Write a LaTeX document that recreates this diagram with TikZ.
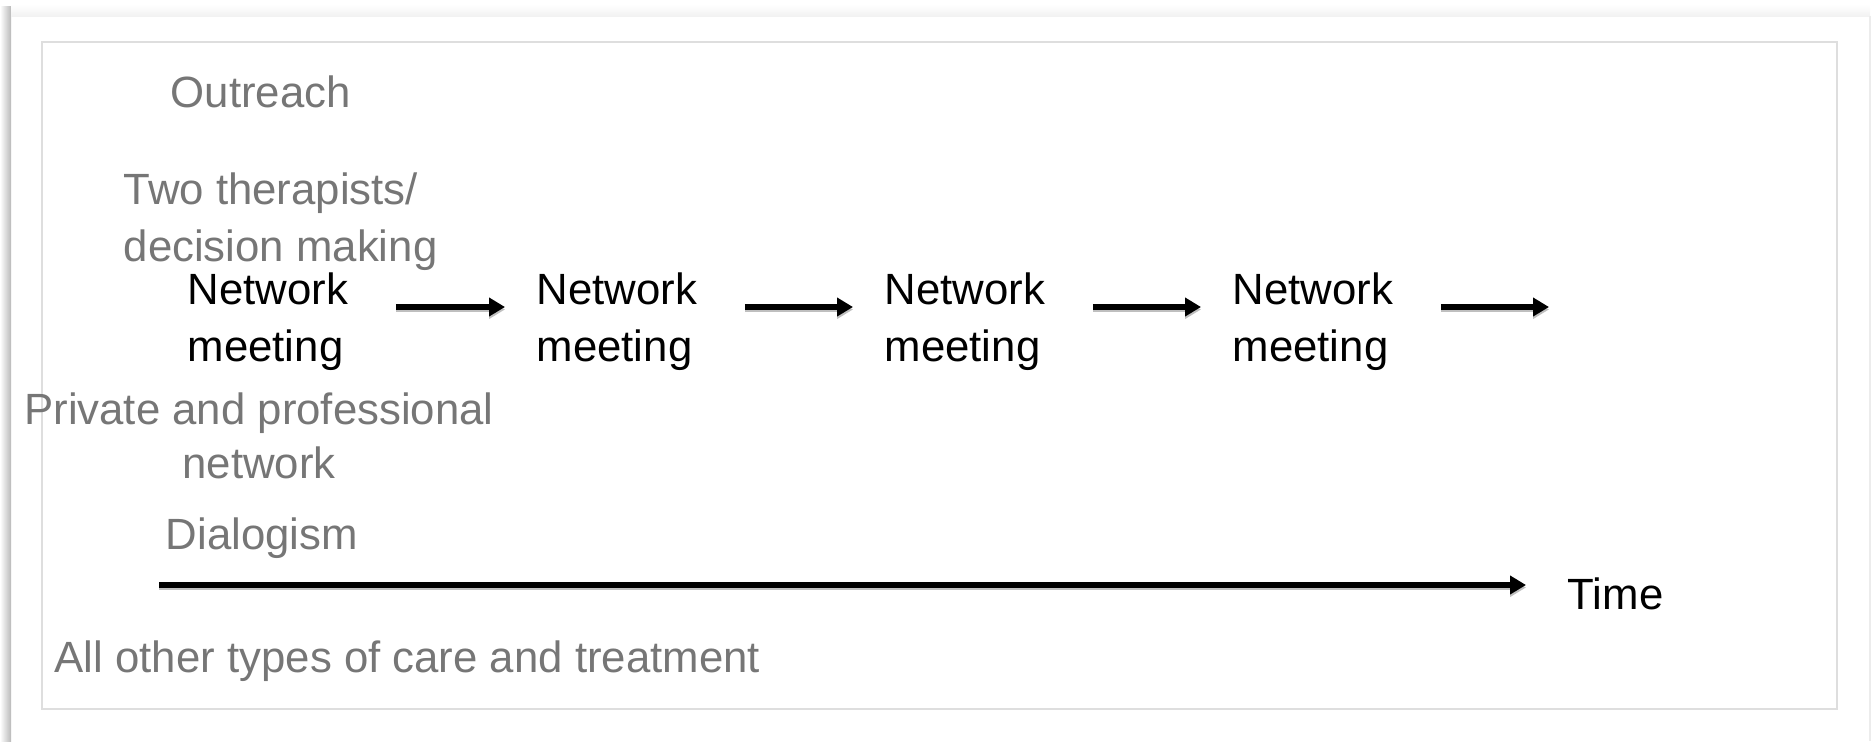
\documentclass[tikz,border=0pt]{standalone}
\usepackage{fontspec}
\setmainfont{Liberation Sans}
\usetikzlibrary{arrows.meta}
\definecolor{labelgray}{RGB}{118,118,118}
\definecolor{framegray}{RGB}{222,222,222}
\begin{document}
\begin{tikzpicture}[x=0.1mm,y=-0.1mm,
  txt/.style={inner sep=0pt, font=\fontsize{12.45}{16.2}\selectfont},
  lbl/.style={txt, text=labelgray},
  meet/.style={txt, text=black, align=left, anchor=base west},
  arr/.style={line width=1.5pt, -{Triangle[length=1.6mm,width=1.8mm]},
    preaction={draw=black!25, line width=1.5pt, transform canvas={yshift=-0.25mm}}}]
\useasboundingbox (0,0) rectangle (1872,741);
% slide frame
\shade[left color=white, right color=gray!55] (0,6) rectangle (11,741);
\shade[top color=white, bottom color=gray!10] (11,4) rectangle (1870,16);
\draw[gray!15, line width=0.8pt] (1870,16) -- (1870,741);
\draw[framegray, line width=0.6pt] (42,42) rectangle (1837,709);
% labels
\node[lbl, anchor=base west] (outreach) at (170,107) {Outreach};
\node[lbl, anchor=base west, align=left] (two) at (123,261) {Two therapists/\\decision making};
\node[lbl, anchor=base, align=center, font=\fontsize{12.45}{15.2}\selectfont] (private) at (259,478) {Private and professional\\network};
\node[lbl, anchor=base west] (dialog) at (165,549) {Dialogism};
\node[lbl, anchor=base west] (other) at (54,672) {All other types of care and treatment};
% meetings
\node[meet] (m1) at (187,361) {Network\\meeting};
\node[meet] (m2) at (536,361) {Network\\meeting};
\node[meet] (m3) at (884,361) {Network\\meeting};
\node[meet] (m4) at (1232,361) {Network\\meeting};
\coordinate (mend) at (1549,307);
\draw[arr] ([xshift=4.7mm]m1.east |- mend) -- ([xshift=-3.1mm]m2.west |- mend);
\draw[arr] ([xshift=4.7mm]m2.east |- mend) -- ([xshift=-3.1mm]m3.west |- mend);
\draw[arr] ([xshift=4.7mm]m3.east |- mend) -- ([xshift=-3.1mm]m4.west |- mend);
\draw[arr] ([xshift=4.7mm]m4.east |- mend) -- (mend);
% time axis
\node[txt, anchor=base west] (time) at (1567,609) {Time};
\coordinate (tstart) at (159,585);
\draw[arr] (tstart) -- ([xshift=-4.1mm]time.west |- tstart);
\end{tikzpicture}
\end{document}
